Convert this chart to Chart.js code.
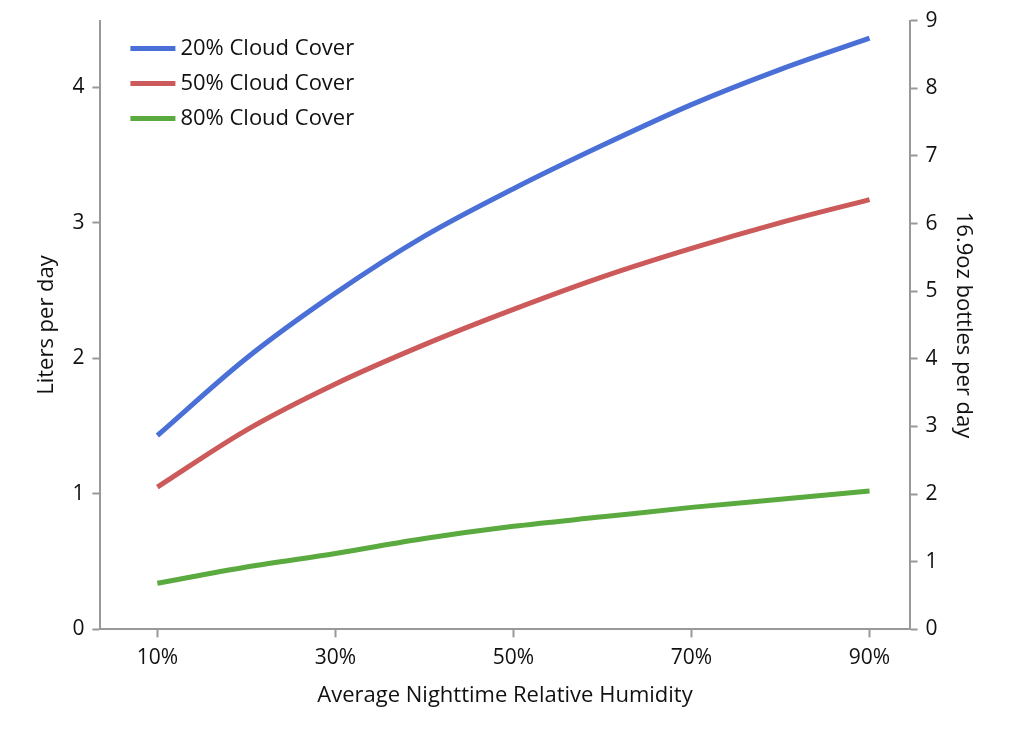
<!DOCTYPE html>
<html>
<head>
<meta charset="utf-8">
<script src="https://cdn.jsdelivr.net/npm/chart.js@4/dist/chart.umd.min.js"></script>
<style>
body { margin: 0; background: #fff; }
#wrap { width: 1024px; height: 734px; }
</style>
</head>
<body>
<div id="wrap"><canvas id="grafico"></canvas></div>
<script>
const humidity = [10, 20, 30, 40, 50, 60, 70, 80, 90];
const cloud20 = [1.43, 2.0, 2.48, 2.9, 3.25, 3.57, 3.87, 4.13, 4.36];
const cloud50 = [1.05, 1.47, 1.81, 2.1, 2.36, 2.6, 2.81, 3.0, 3.17];
const cloud80 = [0.34, 0.46, 0.56, 0.67, 0.76, 0.83, 0.9, 0.96, 1.02];
const xTicks = [10, 30, 50, 70, 90];
const seriesNames = ['20% Cloud Cover', '50% Cloud Cover', '80% Cloud Cover'];
const colores = ['#4a6fd6', '#cc5a5a', '#5aaa3f'];

const fuente = "'Open Sans', 'Noto Sans', sans-serif";
const toPts = (arr) => arr.map((v, i) => ({ x: humidity[i], y: v }));

// leyenda dentro del area del grafico
const leyenda = {
    id: 'leyenda',
    afterDraw(chart) {
        const ctx = chart.ctx;
        const a = chart.chartArea;
        ctx.save();
        ctx.font = '22px ' + fuente;
        ctx.textBaseline = 'middle';
        seriesNames.forEach((n, i) => {
            const y = a.top + 28 + i * 35;
            ctx.strokeStyle = colores[i];
            ctx.lineWidth = 5;
            ctx.beginPath();
            ctx.moveTo(a.left + 30, y);
            ctx.lineTo(a.left + 75, y);
            ctx.stroke();
            ctx.fillStyle = '#111';
            ctx.fillText(n, a.left + 80, y);
        });
        ctx.restore();
    }
};

const ejeBorde = { display: true, color: '#999', width: 2 };
const rejilla = { display: true, drawOnChartArea: false, drawTicks: true, tickLength: 8, tickColor: '#999', tickWidth: 2 };
const tickFont = { size: 21, family: fuente };

new Chart(document.getElementById('grafico'), {
    type: 'line',
    data: {
        datasets: [
            { data: toPts(cloud20), borderColor: colores[0] },
            { data: toPts(cloud50), borderColor: colores[1] },
            { data: toPts(cloud80), borderColor: colores[2] }
        ].map(d => Object.assign(d, { borderWidth: 5, pointRadius: 0, cubicInterpolationMode: 'monotone', fill: false }))
    },
    options: {
        responsive: true,
        maintainAspectRatio: false,
        animation: false,
        layout: { padding: { top: 12, right: 44, bottom: 21, left: 30 } },
        plugins: { legend: { display: false }, tooltip: { enabled: false } },
        scales: {
            x: {
                type: 'linear', min: 3.6, max: 94.5,
                afterBuildTicks: (s) => { s.ticks = xTicks.map(v => ({ value: v })); },
                ticks: { callback: v => v + '%', color: '#111', font: tickFont, padding: 8 },
                grid: rejilla,
                border: ejeBorde,
                title: { display: true, text: 'Average Nighttime Relative Humidity', color: '#111', font: { size: 22, family: fuente } }
            },
            y: {
                position: 'left', min: 0, max: 4.49,
                afterBuildTicks: (s) => { s.ticks = [0, 1, 2, 3, 4].map(v => ({ value: v })); },
                ticks: { color: '#111', font: tickFont, padding: 8 },
                grid: rejilla,
                border: ejeBorde,
                title: { display: true, text: 'Liters per day', color: '#111', font: { size: 22, family: fuente } }
            },
            y2: {
                position: 'right', display: true, min: 0, max: 9,
                ticks: { stepSize: 1, color: '#111', font: tickFont, padding: 8 },
                grid: rejilla,
                border: ejeBorde,
                title: { display: true, text: '16.9oz bottles per day', color: '#111', font: { size: 22, family: fuente } }
            }
        }
    },
    plugins: [leyenda]
});
</script>
</body>
</html>
